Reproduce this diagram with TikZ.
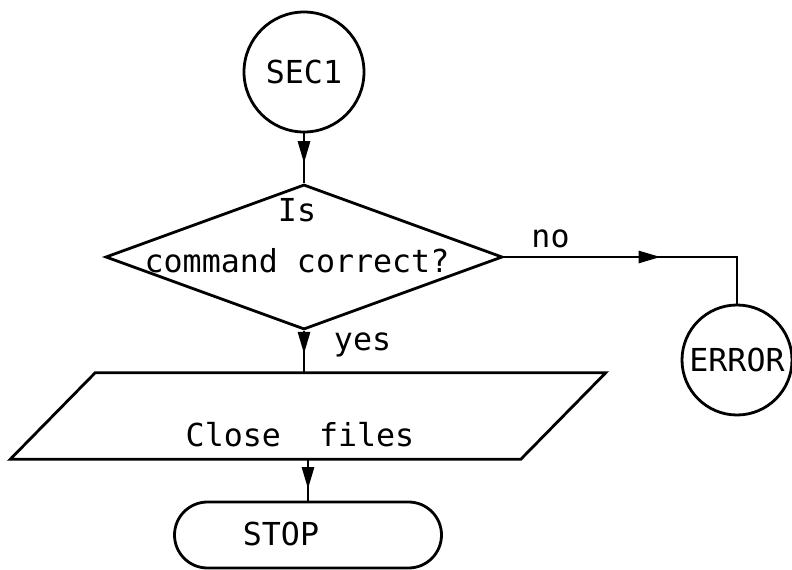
\documentclass[tikz,border=0pt]{standalone}
\usepackage{fontspec}
\setmonofont{DejaVu Sans Mono}
\usepackage{tikz}
\usetikzlibrary{shapes.geometric,shapes.misc,arrows.meta,decorations.markings}

\begin{document}
\begin{tikzpicture}[
        every node/.style={font=\ttfamily\fontsize{22.5}{27}\selectfont},
        flow/.style={line width=0.7mm},
        box/.style={draw, line width=0.7mm, inner sep=0pt},
        midarrow/.style={postaction={decorate}, decoration={markings, mark=at position #1 with {\arrow{Triangle[length=5.5mm, width=3mm]}}}}
    ]
    \useasboundingbox (0,0) rectangle (19.8,14.225);

    % boxes
    \node[box, circle, minimum size=3cm] (sec) at (7.6,12.425) {SEC1};
    \node[box, diamond, minimum width=9.925cm, minimum height=3.625cm] (check) at (7.6,7.8) {};
    \node (isq) at (7.425,8.975) {Is};
    \node (cmdq) at (7.425,7.7) {command correct?};
    \node[box, circle, minimum size=2.75cm] (err) at (18.425,5.225) {ERROR};
    % slanted box: top edge pushed right, bottom edge pushed left
    \node[inner sep=0pt, minimum width=12.75cm, minimum height=2.15cm] (files) at (7.7,3.825) {};
    \draw[flow] ([xshift=1.0625cm]files.north west) -- ([xshift=1.0625cm]files.north east)
        -- ([xshift=-1.0625cm]files.south east) -- ([xshift=-1.0625cm]files.south west) -- cycle;
    \node (filestxt) at (7.5,3.35) {Close\ \ files};
    \node[box, rounded rectangle, minimum width=6.675cm, minimum height=1.65cm] (stop) at (7.7,0.85) {};
    \node (stoptxt) at (7.025,0.875) {STOP};

    % flow lines, arrow tips sit half way along
    \draw[flow, midarrow=0.6] (sec.south) -- (check.north);
    \draw[flow, midarrow=0.56] (check.east) -| node[above, pos=0.1, yshift=2pt] (nolbl) {no} (err.north);
    \draw[flow, midarrow=0.55] (check.south) -- (check.south |- files.north) node[right, pos=0.33, xshift=17pt] (yeslbl) {yes};
    \draw[flow, midarrow=0.72] (files.south) -- (stop.north);
\end{tikzpicture}
\end{document}
